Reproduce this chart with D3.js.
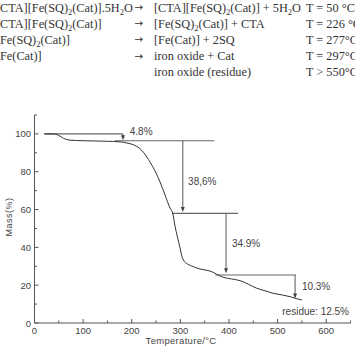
<!DOCTYPE html>
<html><head><meta charset="utf-8">
<script src="https://cdn.jsdelivr.net/npm/d3@7"></script>
<style>
html,body{margin:0;padding:0;background:#fff;}
svg{display:block;}
</style></head>
<body>
<svg id="c" width="355" height="352"></svg>
<script>
// ---- data ----
const temperature = [20,38,50,60,73,100,150,176,190,203,215,225,237.7,248,258.2,268.5,278.8,284.4,289,294,299.4,303,306.2,315,326.7,340,361,388,405,423,440,457,475,491,510,526,540,550];
const mass        = [100,100,99.2,97.6,96.7,96.4,96.1,95.8,95.2,94.3,92.6,90,85.1,80.4,74.6,67.7,60.8,58,51.3,45.5,39.7,35.5,33.3,31.2,29.8,28.6,27.5,24.2,23.3,22.4,20.5,18.4,17,15.7,14.8,13.9,12.8,12.2];
const xTicks = [0,100,200,300,400,500,600];
const yTicks = [0,20,40,60,80,100];
// step annotations: horizontal reference lines [T1,T2,M]
const hLines = [[20,182,100],[165,370,96.4],[283,419,58],[372,538,25.4]];
// arrows [T, Mfrom, Mto]
const arrows = [[182,100,96.6],[305,96.4,58.7],[394,58,26.3],[536,25.4,13]];
const stepLabels = ["4.8%","38,6%","34.9%","10.3%"];
const stepLabelPos = [[196,99.4],[316,73],[406,40],[550,17.2]];
const residueLabel = "residue: 12.5%";
const reactions = [
  {l:["CTA][Fe(SQ)","2","(Cat)].5H","2","O"], r:["[CTA][Fe(SQ)","2","(Cat)] + 5H","2","O"], t:"T = 50 °C"},
  {l:["CTA][Fe(SQ)","2","(Cat)]"], r:["[Fe(SQ)","2","(Cat)] + CTA"], t:"T = 226 °C"},
  {l:["Fe(SQ)","2","(Cat)]"], r:["[Fe(Cat)] + 2SQ"], t:"T = 277°C"},
  {l:["Fe(Cat)]"], r:["iron oxide + Cat"], t:"T = 297°C"},
  {l:[], r:["iron oxide (residue)"], t:"T > 550°C"}
];

// ---- layout ----
const svg = d3.select("#c");
const x = d3.scaleLinear().domain([0,650]).range([34.5,350.5]);
const y = d3.scaleLinear().domain([0,110]).range([323,115]);
const axisCol = "#555", textCol = "#444";

// reactions text
const serif = "'Liberation Serif','Times New Roman',serif";
const fs = 12.3;
function writeParts(g, parts, xx, yy){
  const t = g.append("text").attr("x",xx).attr("y",yy)
    .attr("font-family",serif).attr("font-size",fs).attr("fill","#333");
  parts.forEach((p,i)=>{
    const sub = i%2===1;
    t.append("tspan").attr("font-size", sub?8.5:fs)
      .attr("dy", sub?3:(i>0?-3:0)).text(p);
  });
}
const rg = svg.append("g");
reactions.forEach((r,i)=>{
  const yy = 11.5 + i*16.2;
  if(r.l.length) {
    rg.append("text").attr("x",134.5).attr("y",yy-0.5).attr("font-family","'DejaVu Sans',sans-serif")
      .attr("font-size",10.5).attr("fill","#333").text("→");
    writeParts(rg, r.l, 0, yy);
  }
  writeParts(rg, r.r, 154, yy);
  rg.append("text").attr("x",306).attr("y",yy).attr("font-family",serif)
    .attr("font-size",fs).attr("fill","#333").text(r.t);
});

// axes
const sans = "'Liberation Sans',Arial,sans-serif";
const gx = svg.append("g").attr("transform",`translate(0,${y(0)})`);
gx.append("line").attr("x1",x(0)).attr("x2",x(650)).attr("stroke",axisCol);
d3.range(0,651,50).forEach(v=>{
  const major = v%100===0;
  gx.append("line").attr("x1",x(v)).attr("x2",x(v)).attr("y1",0).attr("y2",major?-4:-2.5).attr("stroke",axisCol);
});
xTicks.forEach(v=>{
  gx.append("text").attr("x",x(v)).attr("y",11).attr("text-anchor","middle")
    .attr("font-family",sans).attr("font-size",9.5).attr("fill",textCol).text(v);
});
const gy = svg.append("g").attr("transform",`translate(${x(0)},0)`);
gy.append("line").attr("y1",y(0)).attr("y2",y(110)).attr("stroke",axisCol);
d3.range(0,111,10).forEach(v=>{
  const major = v%20===0;
  gy.append("line").attr("y1",y(v)).attr("y2",y(v)).attr("x1",0).attr("x2",major?4:2.5).attr("stroke",axisCol);
});
yTicks.forEach(v=>{
  gy.append("text").attr("x",-3.5).attr("y",y(v)+3.5).attr("text-anchor","end")
    .attr("font-family",sans).attr("font-size",9.5).attr("fill",textCol).text(v);
});
svg.append("text").attr("x",181).attr("y",344).attr("text-anchor","middle")
  .attr("font-family",sans).attr("font-size",9.5).attr("letter-spacing",0.3).attr("fill",textCol).text("Temperature/°C");
svg.append("text").attr("transform","translate(11.5,217) rotate(-90)").attr("text-anchor","middle")
  .attr("font-family",sans).attr("font-size",9).attr("letter-spacing",0.5).attr("fill",textCol).text("Mass(%)");

// annotations
const ann = svg.append("g").attr("stroke","#666").attr("stroke-width",1.1);
hLines.forEach(h=>{
  ann.append("line").attr("x1",x(h[0])).attr("x2",x(h[1])).attr("y1",y(h[2])).attr("y2",y(h[2]));
});
arrows.forEach(a=>{
  const xx = x(a[0]), y1 = y(a[1]), y2 = y(a[2]);
  ann.append("line").attr("x1",xx).attr("x2",xx).attr("y1",y1).attr("y2",y2-4);
  svg.append("path").attr("d",`M${xx-2},${y2-5}L${xx+2},${y2-5}L${xx},${y2}Z`).attr("fill","#444");
});
stepLabels.forEach((s,i)=>{
  svg.append("text").attr("x",x(stepLabelPos[i][0])).attr("y",y(stepLabelPos[i][1]))
    .attr("font-family",sans).attr("font-size",10).attr("fill",textCol).text(s);
});
svg.append("text").attr("x",349).attr("y",315).attr("text-anchor","end")
  .attr("font-family",sans).attr("font-size",10).attr("fill",textCol).text(residueLabel);

// curve
const pts = temperature.map((t,i)=>[t,mass[i]]);
svg.append("path").datum(pts)
  .attr("d", d3.line().x(d=>x(d[0])).y(d=>y(d[1])).curve(d3.curveMonotoneX))
  .attr("fill","none").attr("stroke","#333").attr("stroke-width",1);
</script>
</body></html>
